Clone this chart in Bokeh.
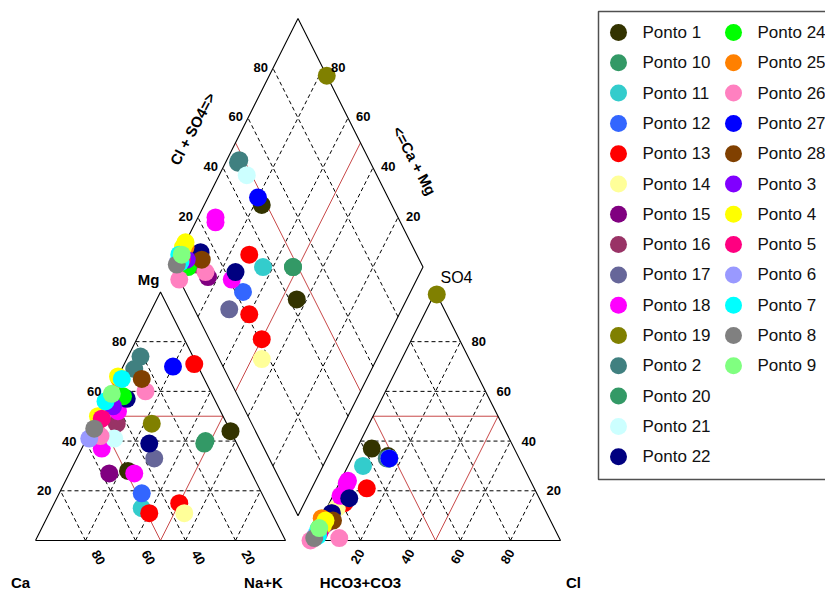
import numpy as np
from bokeh.plotting import figure
from bokeh.models import Range1d, ColumnDataSource
from bokeh.core.properties import value
from bokeh.embed import file_html
from bokeh.resources import INLINE

# ---------------- data ----------------
legend_names = ["Ponto 1", "Ponto 10", "Ponto 11", "Ponto 12", "Ponto 13", "Ponto 14",
                "Ponto 15", "Ponto 16", "Ponto 17", "Ponto 18", "Ponto 19", "Ponto 2",
                "Ponto 20", "Ponto 21", "Ponto 22", "Ponto 24", "Ponto 25", "Ponto 26",
                "Ponto 27", "Ponto 28", "Ponto 3", "Ponto 4", "Ponto 5", "Ponto 6",
                "Ponto 7", "Ponto 8", "Ponto 9"]
legend_colors = ["#333300", "#339966", "#33CCCC", "#3366FF", "#FF0000", "#FFFF99",
                 "#800080", "#993366", "#666699", "#FF00FF", "#808000", "#408080",
                 "#339966", "#CCFFFF", "#000080", "#00FF00", "#FF8000", "#FF80C0",
                 "#0000FF", "#804000", "#8000FF", "#FFFF00", "#FF0080", "#9999FF",
                 "#00FFFF", "#808080", "#80FF80"]

# samples (percent of meq)
sample_names = ["Ponto 1", "Ponto 1", "Ponto 10", "Ponto 11", "Ponto 12",
                "Ponto 13", "Ponto 13", "Ponto 13", "Ponto 14", "Ponto 15",
                "Ponto 16", "Ponto 17", "Ponto 18", "Ponto 18", "Ponto 18",
                "Ponto 19", "Ponto 2", "Ponto 2", "Ponto 20", "Ponto 21",
                "Ponto 22", "Ponto 22", "Ponto 24", "Ponto 25", "Ponto 26",
                "Ponto 26", "Ponto 27", "Ponto 28", "Ponto 3", "Ponto 4",
                "Ponto 4", "Ponto 5", "Ponto 6", "Ponto 7", "Ponto 7",
                "Ponto 8", "Ponto 9"]
ca   = [0, 49, 12, 51, 48,  1, 49, 35, 35, 57, 44, 36, 55, 47, 41, 30, 26, 21, 13, 48,
        35, 35, 36, 34, 26, 53, 10, 25, 42, 34, 50, 49, 58, 33, 44, 54, 40]
mg   = [44, 28, 40, 13, 19, 71, 11, 15, 11, 27, 47, 33, 37, 27, 52, 47, 69, 74, 39, 41,
        39, 57, 58, 65, 60, 42, 70, 65, 54, 66, 50, 49, 41, 65, 56, 45, 59]
nak  = [56, 23, 48, 36, 33, 28, 40, 50, 54, 16, 9, 31, 8, 26, 7, 23, 5, 5, 48, 11,
        26, 8, 6, 1, 14, 5, 20, 10, 4, 0, 0, 2, 1, 2, 0, 1, 1]
hco3 = [57, 52, 52, 64, 77, 67, 79, 79, 83, 88, 90, 86, 74, 79, 73, 0, 52, 53, 52, 52,
        76, 86, 94, 91, 88, 100, 52, 87, 93, 90, 92, 95, 97, 96, 95, 98, 94]
cl   = [6, 14, 15, 6, 5, 12, 6, 5, 4, 3, 3, 3, 3, 3, 3, 1, 15, 14, 15, 15,
        7, 3, 1, 0, 11, 0, 15, 5, 2, 2, 2, 2, 1, 2, 1, 1, 1]
so4  = [37, 34, 33, 30, 18, 21, 15, 16, 13, 9, 7, 11, 23, 18, 24, 99, 33, 33, 33, 33,
        17, 11, 5, 9, 1, 0, 33, 8, 5, 8, 6, 3, 2, 2, 4, 1, 5]

ticks = [20, 40, 60, 80]

# ---------------- geometry ----------------
S3 = np.sqrt(3) / 2
GAP = 10
AOX = 100 + GAP                      # anion triangle x offset
DB = (100 + GAP / 2, GAP * S3)       # diamond bottom vertex


def cat_xy(m, n):
    return n + m / 2, m * S3


def an_xy(s, c):
    return AOX + c + s / 2, s * S3


def dia_xy(a, b):
    return DB[0] + 50 * (b - a), DB[1] + 100 * S3 * (a + b)


W, H = 825, 590
SX, SY = 2.5, 2.87
X0 = -35 / SX
YT = 540 / SY

p = figure(width=W, height=H, x_range=Range1d(X0, X0 + W / SX),
           y_range=Range1d(YT - H / SY, YT), output_backend="svg",
           toolbar_location=None, min_border=0, x_axis_type=None, y_axis_type=None)
p.grid.visible = False
p.outline_line_color = None
p.background_fill_color = "white"


def px(x):  # picture pixel -> data x
    return X0 + x / SX


def py(y):
    return YT - y / SY


# ---------------- grids ----------------
gx, gy = [], []
for v in ticks:
    for ox in (0, AOX):
        gx.append([ox + v / 2, ox + 100 - v / 2]); gy.append([v * S3, v * S3])
        gx.append([ox + v, ox + v + (100 - v) / 2]); gy.append([0, (100 - v) * S3])
        gx.append([ox + 100 - v, ox + (100 - v) / 2]); gy.append([0, (100 - v) * S3])
    t = v / 100
    x1, y1 = dia_xy(t, 0); x2, y2 = dia_xy(t, 1)
    gx.append([x1, x2]); gy.append([y1, y2])
    x1, y1 = dia_xy(0, t); x2, y2 = dia_xy(1, t)
    gx.append([x1, x2]); gy.append([y1, y2])
p.multi_line(gx, gy, line_color="black", line_width=1, line_dash="4 3")

# facies lines (red)
rx, ry = [], []
for ox in (0, AOX):
    rx.append([ox + 25, ox + 75, ox + 50, ox + 25]); ry.append([50 * S3, 50 * S3, 0, 50 * S3])
x1, y1 = dia_xy(0.5, 0); x2, y2 = dia_xy(0.5, 1)
rx.append([x1, x2]); ry.append([y1, y2])
x1, y1 = dia_xy(0, 0.5); x2, y2 = dia_xy(1, 0.5)
rx.append([x1, x2]); ry.append([y1, y2])
p.multi_line(rx, ry, line_color="#C84848", line_width=1)

# outlines
ox_, oy_ = [], []
for ox in (0, AOX):
    ox_.append([ox, ox + 100, ox + 50, ox]); oy_.append([0, 0, 100 * S3, 0])
dv = [dia_xy(0, 0), dia_xy(1, 0), dia_xy(1, 1), dia_xy(0, 1), dia_xy(0, 0)]
ox_.append([d[0] for d in dv]); oy_.append([d[1] for d in dv])
p.multi_line(ox_, oy_, line_color="black", line_width=1.1)

# ---------------- points ----------------
cmap = dict(zip(legend_names, legend_colors))
cols = [cmap[n] for n in sample_names]
ca_a, mg_a, na_a = np.array(ca, float), np.array(mg, float), np.array(nak, float)
hc_a, cl_a, so_a = np.array(hco3, float), np.array(cl, float), np.array(so4, float)
csum = ca_a + mg_a + na_a
asum = hc_a + cl_a + so_a
mgp, nap = mg_a / csum * 100, na_a / csum * 100
sop, clp = so_a / asum * 100, cl_a / asum * 100
cx, cy = cat_xy(mgp, nap)
axx, ayy = an_xy(sop, clp)
dx, dy = dia_xy((100 - nap) / 100, (sop + clp) / 100)
src = ColumnDataSource(dict(cx=cx, cy=cy, ax=axx, ay=ayy, dx=dx, dy=dy, color=cols))
for xf, yf in (("cx", "cy"), ("ax", "ay"), ("dx", "dy")):
    p.scatter(xf, yf, source=src, marker="circle", size=18, fill_color="color",
              line_color="color", line_width=0)

# ---------------- texts ----------------
F = value("Liberation Sans")


def txt(x, y, t, size, bold=True, angle=0, align="center", xo=0, yo=0):
    p.text(x=x, y=y, text=t, text_font=F, text_font_size=size,
           text_font_style="bold" if bold else "normal", angle=angle, angle_units="deg",
           text_align=align, text_baseline="middle", x_offset=xo, y_offset=yo,
           text_color="black")


txt([v / 2 for v in ticks], [v * S3 for v in ticks], [str(v) for v in ticks], "13px",
    align="right", xo=-9)
txt([AOX + 100 - v / 2 for v in ticks], [v * S3 for v in ticks], [str(v) for v in ticks],
    "13px", align="left", xo=11)
txt([100 - v for v in ticks], [0] * 4, [str(v) for v in ticks], "13px", angle=-60,
    xo=13, yo=17)
txt([AOX + v for v in ticks], [0] * 4, [str(v) for v in ticks], "13px", angle=60,
    xo=-3, yo=16)
ul = [dia_xy(1, v / 100) for v in ticks]
txt([q[0] for q in ul], [q[1] for q in ul], [str(v) for v in ticks], "13px",
    align="right", xo=-5, yo=-1)
ur = [dia_xy(v / 100, 1) for v in ticks]
txt([q[0] for q in ur], [q[1] for q in ur], [str(v) for v in ticks], "13px",
    align="left", xo=8, yo=-1)

txt([0], [0], ["Ca"], "15px", xo=-15, yo=42)
txt([100], [0], ["Na+K"], "15px", xo=-22, yo=42)
txt([AOX], [0], ["HCO3+CO3"], "15px", xo=50, yo=42)
txt([AOX + 100], [0], ["Cl"], "15px", xo=13, yo=42)
txt([50], [100 * S3], ["Mg"], "15px", xo=-12, yo=-12)
txt([AOX + 50], [100 * S3], ["SO4"], "16px", bold=False, xo=21, yo=-14)
m1 = dia_xy(1, 0.5)
txt([m1[0]], [m1[1]], ["Cl + SO4=>"], "15px", angle=62, xo=-43, yo=-14)
m2 = dia_xy(0.5, 1)
txt([m2[0]], [m2[1]], ["<=Ca + Mg"], "15px", angle=-62, xo=54, yo=18)

# ---------------- legend (manual) ----------------
p.quad(left=[px(598)], right=[px(880)], top=[py(11)], bottom=[py(479)],
       fill_color="white", line_color="#505050", line_width=1.5)
nrow = 15
lx = [px(618) if i < nrow else px(733) for i in range(len(legend_names))]
ly = [py(32 + (i % nrow) * 30.3) for i in range(len(legend_names))]
tx = [px(642) if i < nrow else px(757) for i in range(len(legend_names))]
p.scatter(lx, ly, marker="circle", size=17, fill_color=legend_colors,
          line_color=legend_colors, line_width=0)
p.text(x=tx, y=ly, text=legend_names, text_font=F, text_font_size="17px",
       text_baseline="middle", text_align="left", text_color="#111111")

open("out.html", "w").write(file_html(p, INLINE))
